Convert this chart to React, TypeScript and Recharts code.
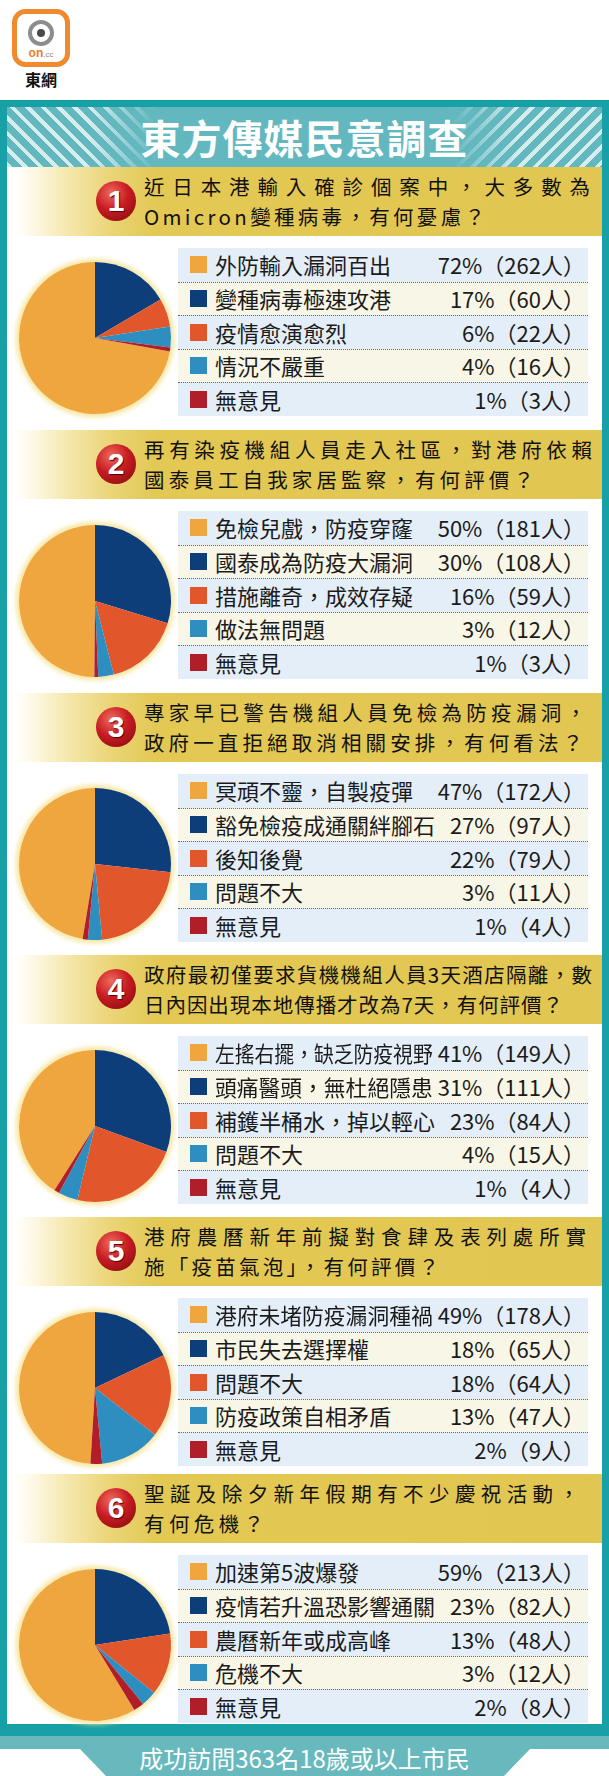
import { Cell, Pie, PieChart } from 'recharts'

const FONT = '"Noto Sans CJK TC", "Noto Sans CJK JP", sans-serif'

const COLOURS = ['#efa63e', '#0d3e7a', '#e1562a', '#2d8ebf', '#b01f29']

const TITLE = '東方傳媒民意調查'
const FOOTER = '成功訪問363名18歲或以上市民'

const QUESTION_LINES = [
  ['近日本港輸入確診個案中，大多數為', 'Omicron變種病毒，有何憂慮？'],
  ['再有染疫機組人員走入社區，對港府依賴', '國泰員工自我家居監察，有何評價？'],
  ['專家早已警告機組人員免檢為防疫漏洞，', '政府一直拒絕取消相關安排，有何看法？'],
  ['政府最初僅要求貨機機組人員3天酒店隔離，數', '日內因出現本地傳播才改為7天，有何評價？'],
  ['港府農曆新年前擬對食肆及表列處所實', '施「疫苗氣泡」，有何評價？'],
  ['聖誕及除夕新年假期有不少慶祝活動，', '有何危機？'],
]

const OPTION_LABELS = [
  ['外防輸入漏洞百出', '變種病毒極速攻港', '疫情愈演愈烈', '情況不嚴重', '無意見'],
  ['免檢兒戲，防疫穿窿', '國泰成為防疫大漏洞', '措施離奇，成效存疑', '做法無問題', '無意見'],
  ['冥頑不靈，自製疫彈', '豁免檢疫成通關絆腳石', '後知後覺', '問題不大', '無意見'],
  ['左搖右擺，缺乏防疫視野', '頭痛醫頭，無杜絕隱患', '補鑊半桶水，掉以輕心', '問題不大', '無意見'],
  ['港府未堵防疫漏洞種禍', '市民失去選擇權', '問題不大', '防疫政策自相矛盾', '無意見'],
  ['加速第5波爆發', '疫情若升溫恐影響通關', '農曆新年或成高峰', '危機不大', '無意見'],
]

const PERCENTS = [
  [72, 17, 6, 4, 1],
  [50, 30, 16, 3, 1],
  [47, 27, 22, 3, 1],
  [41, 31, 23, 4, 1],
  [49, 18, 18, 13, 2],
  [59, 23, 13, 3, 2],
]

const RESPONDENTS = [
  [262, 60, 22, 16, 3],
  [181, 108, 59, 12, 3],
  [172, 97, 79, 11, 4],
  [149, 111, 84, 15, 4],
  [178, 65, 64, 47, 9],
  [213, 82, 48, 12, 8],
]

// layout
const SECTION_TOP = [167, 430, 693, 955, 1217, 1474]
const LINE_END = [
  [590, 485],
  [592, 534],
  [586, 583],
  [592, 563],
  [586, 439],
  [579, 264],
]
const ROW_H = 33.6
const VALUE_RIGHT = 585

let ctx: CanvasRenderingContext2D | null = null
function textWidth(s: string, size: number, weight = 'normal') {
  if (!ctx) ctx = document.createElement('canvas').getContext('2d')
  if (!ctx) return s.length * size
  ctx.font = `${weight} ${size}px ${FONT}`
  const w = ctx.measureText(s).width
  return w > 0 ? w : s.length * size
}

interface FitProps {
  text: string
  left: number
  cy: number
  width: number
  size: number
  color: string
  justify?: boolean
  weight?: string
}

// stretches (letter-spacing) or squeezes (scaleX) a line to a given width
function FitText({ text, left, cy, width, size, color, justify, weight = 'normal' }: FitProps) {
  const nat = textWidth(text, size, weight)
  const n = [...text].length
  let ls = 0
  let sx = 1
  if (nat > width) sx = width / nat
  else if (justify && n > 1) ls = (width - nat) / (n - 1)
  return (
    <div
      style={{
        position: 'absolute',
        left,
        top: cy - size * 0.56,
        fontSize: size,
        lineHeight: `${size}px`,
        whiteSpace: 'nowrap',
        letterSpacing: ls,
        transform: `scaleX(${sx})`,
        transformOrigin: 'left center',
        color,
        fontWeight: weight,
      }}
    >
      {text}
    </div>
  )
}

function SurveyPie({ index }: { index: number }) {
  const values = RESPONDENTS[index]
  const data = values.map((v, i) => ({ name: OPTION_LABELS[index][i], value: v }))
  const total = values.reduce((a, b) => a + b, 0)
  const start = 90 + (360 * values[0]) / total
  return (
    <PieChart width={170} height={170} margin={{ top: 0, right: 0, bottom: 0, left: 0 }}>
      <Pie
        data={data}
        dataKey="value"
        cx={85}
        cy={85}
        outerRadius={76}
        startAngle={start}
        endAngle={start - 360}
        stroke="none"
        isAnimationActive={false}
      >
        {data.map((_, i) => (
          <Cell key={i} fill={COLOURS[i]} />
        ))}
      </Pie>
    </PieChart>
  )
}

function Section({ index, top }: { index: number; top: number }) {
  const pieCy = top + 171
  const boxTop = top + 81
  return (
    <>
      <div
        style={{
          position: 'absolute',
          left: 7,
          top,
          width: 595,
          height: 69,
          background:
            'linear-gradient(to right, #ffffff 0px, #fefcf2 18px, #f6e8ad 60px, #ead475 105px, #e3c854 150px, #e2c652 100%)',
        }}
      />
      <div
        style={{
          position: 'absolute',
          left: 96,
          top: top + 14,
          width: 40,
          height: 40,
          borderRadius: '50%',
          background: 'radial-gradient(circle at 38% 30%, #ef6a5c 0%, #c81c22 45%, #7e0a0d 100%)',
          color: '#fff',
          fontSize: 30,
          fontWeight: 'bold',
          lineHeight: '40px',
          textAlign: 'center',
          fontFamily: 'Arial, "Liberation Sans", sans-serif',
          textShadow: '1px 1px 1px #5a0000',
        }}
      >
        {index + 1}
      </div>
      {QUESTION_LINES[index].map((s, j) => (
        <FitText
          key={j}
          text={s}
          left={144}
          cy={top + 20 + j * 30}
          width={LINE_END[index][j] - 144}
          size={20.5}
          color="#111"
          justify
        />
      ))}

      <div
        style={{
          position: 'absolute',
          left: 95 - 76,
          top: pieCy - 76,
          width: 152,
          height: 152,
          borderRadius: '50%',
          boxShadow: '0 0 5px 3px #f6e59b',
        }}
      />
      <div style={{ position: 'absolute', left: 95 - 85, top: pieCy - 85 }}>
        <SurveyPie index={index} />
      </div>

      {OPTION_LABELS[index].map((label, r) => {
        const rowTop = boxTop + r * ROW_H
        const value = `${PERCENTS[index][r]}%（${RESPONDENTS[index][r]}人）`
        const vw = textWidth(value, 22)
        return (
          <div key={r}>
            <div
              style={{
                position: 'absolute',
                left: 178,
                top: rowTop,
                width: 410,
                height: ROW_H,
                boxSizing: 'border-box',
                background: r % 2 === 0 ? '#e4eef8' : '#f8f6e6',
                borderTop: r > 0 ? '1px dotted #6a6a6a' : 'none',
              }}
            />
            <div
              style={{
                position: 'absolute',
                left: 190,
                top: rowTop + ROW_H / 2 - 8.5,
                width: 17,
                height: 17,
                background: COLOURS[r],
              }}
            />
            <FitText
              text={label}
              left={215}
              cy={rowTop + ROW_H / 2 + 1}
              width={VALUE_RIGHT - vw - 215 - 5}
              size={22}
              color="#1b1b1b"
            />
            <div
              style={{
                position: 'absolute',
                right: 609 - VALUE_RIGHT,
                top: rowTop + ROW_H / 2 + 1 - 22 * 0.56,
                fontSize: 22,
                lineHeight: '22px',
                whiteSpace: 'nowrap',
                color: '#1b1b1b',
              }}
            >
              {value}
            </div>
          </div>
        )
      })}
    </>
  )
}

export default function App() {
  const stripes = (angle: number, fade: string) => ({
    position: 'absolute' as const,
    top: 0,
    height: 60,
    width: 150,
    backgroundImage: `repeating-linear-gradient(${angle}deg, rgba(235,246,247,0.85) 0px 4px, rgba(255,255,255,0) 4px 11px)`,
    WebkitMaskImage: fade,
    maskImage: fade,
  })

  return (
    <div
      style={{
        position: 'absolute',
        left: 0,
        top: 0,
        width: 609,
        height: 1776,
        overflow: 'hidden',
        background: '#fff',
        fontFamily: FONT,
      }}
    >
      {/* logo */}
      <svg style={{ position: 'absolute', left: 12, top: 9 }} width={58} height={58}>
        <rect x={2.5} y={2.5} width={53} height={53} rx={11} fill="#fff" stroke="#ef8a2e" strokeWidth={5} />
        <circle cx={29} cy={24} r={11} fill="none" stroke="#8d8d8d" strokeWidth={4} />
        <circle cx={29} cy={24} r={4} fill="#4a4a4a" />
        <text x={29} y={48} textAnchor="middle" fontSize={12} fontWeight="bold" fill="#ef7d1f" fontFamily="Arial">
          on<tspan fill="#888" fontSize={8} fontWeight="normal">.cc</tspan>
        </text>
      </svg>
      <div
        style={{
          position: 'absolute',
          left: 25,
          top: 70,
          fontSize: 16,
          fontWeight: 'bold',
          lineHeight: '18px',
          color: '#111',
        }}
      >
        東網
      </div>

      {/* frame */}
      <div
        style={{
          position: 'absolute',
          left: 0,
          top: 100,
          width: 609,
          height: 1636,
          boxSizing: 'border-box',
          border: '7px solid #17a0a5',
          borderBottomWidth: 12,
        }}
      />

      {/* title */}
      <div
        style={{
          position: 'absolute',
          left: 7,
          top: 107,
          width: 595,
          height: 60,
          overflow: 'hidden',
          background: '#62b8be',
        }}
      >
        <div style={{ ...stripes(45, 'linear-gradient(to right, #000 55%, transparent)'), left: 0 }} />
        <div style={{ ...stripes(135, 'linear-gradient(to left, #000 55%, transparent)'), right: 0 }} />
        <div
          style={{
            position: 'absolute',
            left: 0,
            top: 0,
            width: 595,
            height: 60,
            lineHeight: '60px',
            textAlign: 'center',
            color: '#fff',
            fontSize: 40,
            fontWeight: 'bold',
            letterSpacing: 1,
          }}
        >
          {TITLE}
        </div>
      </div>

      {SECTION_TOP.map((t, i) => (
        <Section key={i} index={i} top={t} />
      ))}

      {/* footer */}
      <div
        style={{
          position: 'absolute',
          left: 0,
          top: 1736,
          width: 609,
          height: 40,
          background: '#67b9be',
          clipPath: 'polygon(0 0, 609px 0, 609px 13px, 530px 13px, 504px 40px, 106px 40px, 80px 13px, 0 13px)',
        }}
      />
      <div
        style={{
          position: 'absolute',
          left: 0,
          top: 1744,
          width: 609,
          textAlign: 'center',
          fontSize: 24,
          lineHeight: '28px',
          color: '#fff',
        }}
      >
        {FOOTER}
      </div>
    </div>
  )
}
